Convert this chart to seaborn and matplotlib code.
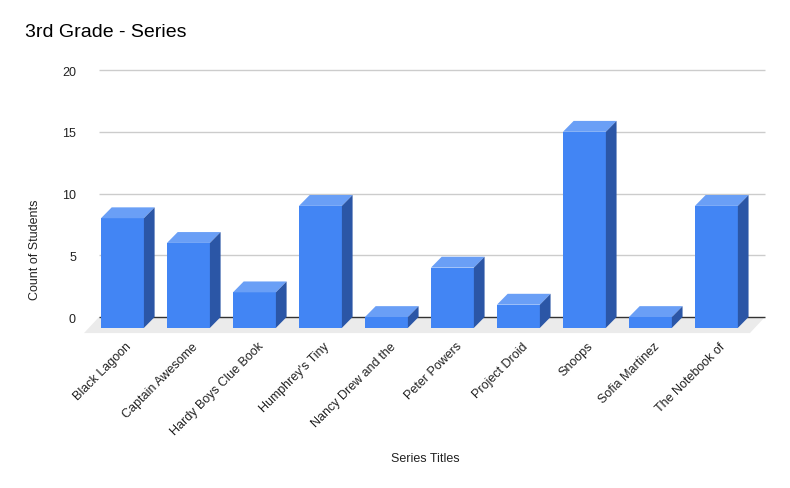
import numpy as np
import pandas as pd
import matplotlib
matplotlib.use("Agg")
import matplotlib.pyplot as plt
from matplotlib.patches import Polygon
from matplotlib.transforms import ScaledTranslation
import seaborn as sns

# dados
titulos = [
    "Black Lagoon",
    "Captain Awesome",
    "Hardy Boys Clue Book",
    "Humphrey's Tiny",
    "Nancy Drew and the",
    "Peter Powers",
    "Project Droid",
    "Snoops",
    "Sofia Martinez",
    "The Notebook of",
]
alunos = [8, 6, 2, 9, 0, 4, 1, 15, 0, 9]
y_ticks = [0, 5, 10, 15, 20]

# efeito 3D (unidades dos dados)
prof_x = 0.162
prof_y = 0.88
chao_x = 0.227
chao_y = 1.3

cor_frente = "#4285f4"
cor_topo = "#6a9ff6"
cor_lado = "#2b56a6"

df = pd.DataFrame({"titulo": titulos, "alunos": alunos})

sns.set_theme(style="white")
plt.rcParams["font.family"] = ["Liberation Sans", "DejaVu Sans"]

fig = plt.figure(figsize=(7.9, 4.89), dpi=100)
ax = fig.add_axes([0.1049, 0.3143, 0.8646, 0.5556])

sns.barplot(data=df, x="titulo", y="alunos", color=cor_frente, width=0.65,
            saturation=1, ax=ax, zorder=3)

ax.set_xlim(-0.6, 9.75)
ax.set_ylim(-1.4, 20.6)

# chão cinzento
x_esq, x_dir = -0.583, 9.508
ax.add_patch(Polygon([(x_esq, -chao_y), (x_dir, -chao_y),
                      (x_dir + chao_x, 0), (x_esq + chao_x, 0)],
                     closed=True, facecolor="#ebebeb", edgecolor="none", zorder=0))

# linhas de grelha no plano de trás
for t in y_ticks:
    ax.hlines(t, x_esq + chao_x, x_dir + chao_x,
              color="#333333" if t == 0 else "#cccccc", linewidth=1, zorder=1)

# faces de topo e lado de cada barra
barras = [p for p in ax.patches if hasattr(p, "get_width")]
for patch in barras:
    x0 = patch.get_x()
    w = patch.get_width()
    v = patch.get_height()
    patch.set_y(-prof_y)
    patch.set_height(v + prof_y)
    patch.set_edgecolor("none")
    topo = [(x0, v), (x0 + w, v), (x0 + w + prof_x, v + prof_y), (x0 + prof_x, v + prof_y)]
    lado = [(x0 + w, -prof_y), (x0 + w + prof_x, 0), (x0 + w + prof_x, v + prof_y), (x0 + w, v)]
    ax.add_patch(Polygon(topo, closed=True, facecolor=cor_topo, edgecolor="none", zorder=3))
    ax.add_patch(Polygon(lado, closed=True, facecolor=cor_lado, edgecolor="none", zorder=3))

for s in ax.spines.values():
    s.set_visible(False)

ax.set_yticks(y_ticks)
ax.set_yticklabels([str(t) for t in y_ticks], fontsize=9, color="#222222")
ax.tick_params(axis="y", length=0, pad=5)
ax.tick_params(axis="x", length=0, pad=4)
ax.set_xticks(range(len(titulos)))
ax.set_xticklabels(titulos, rotation=45, ha="right", va="top",
                   rotation_mode="anchor", fontsize=9, color="#222222")
for lbl in ax.get_xticklabels():
    lbl.set_transform(lbl.get_transform() + ScaledTranslation(3 / 100, 0, fig.dpi_scale_trans))

ax.set_xlabel("")
ax.set_ylabel("")
fig.text(425 / 790, 1 - 462 / 489, "Series Titles", ha="center", va="baseline",
         fontsize=9, color="#222222")
fig.text(35 / 790, 1 - 250 / 489, "Count of Students", ha="center", va="center",
         rotation=90, fontsize=9, color="#222222")
fig.text(25 / 790, 1 - 37 / 489, "3rd Grade - Series", ha="left", va="baseline",
         fontsize=14, color="#000000")

fig.savefig("out.png", dpi=100)
